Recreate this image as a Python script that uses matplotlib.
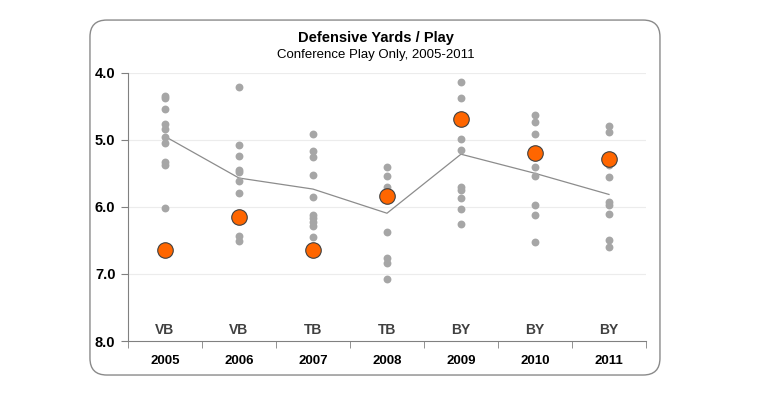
import matplotlib.pyplot as plt
from matplotlib.patches import FancyBboxPatch

plt.rcParams['font.family'] = ['Liberation Sans', 'DejaVu Sans']

# donnees
years = ['2005', '2006', '2007', '2008', '2009', '2010', '2011']
coaches = ['VB', 'VB', 'TB', 'TB', 'BY', 'BY', 'BY']
others = [
    [4.35, 4.38, 4.535, 4.76, 4.845, 4.96, 5.05, 5.335, 5.37, 6.01],
    [4.21, 5.085, 5.235, 5.45, 5.485, 5.61, 5.79, 6.43, 6.51],
    [4.92, 5.16, 5.25, 5.52, 5.85, 6.12, 6.17, 6.225, 6.28, 6.45],
    [5.40, 5.535, 5.71, 5.835, 6.375, 6.76, 6.84, 7.07],
    [4.145, 4.38, 4.995, 5.145, 5.70, 5.75, 5.875, 6.025, 6.25],
    [4.625, 4.74, 4.91, 5.40, 5.535, 5.97, 6.12, 6.52],
    [4.80, 4.885, 5.375, 5.55, 5.935, 5.975, 6.105, 6.495, 6.595],
]
team = [6.64, 6.155, 6.65, 5.84, 4.685, 5.195, 5.285]
conf_avg = [4.95, 5.57, 5.735, 6.095, 5.215, 5.50, 5.815]

fig = plt.figure(figsize=(7.65, 4.01), dpi=100)

# cadre arrondi (derriere les axes)
frame = FancyBboxPatch((0.1176, 0.0648), 0.7451, 0.8852,
                       boxstyle="round,pad=0,rounding_size=0.022",
                       transform=fig.transFigure, facecolor='white',
                       edgecolor='#8a8a8a', linewidth=1.0, zorder=-5,
                       mutation_aspect=765 / 401)
fig.patches.append(frame)

ax = fig.add_axes([0.1673, 0.1496, 0.6771, 0.6691])
ax.set_facecolor('none')

x = list(range(len(years)))
for i, vals in enumerate(others):
    ax.scatter([i] * len(vals), vals, s=32, color='#a6a6a6', zorder=3, linewidths=0)
ax.plot(x, conf_avg, color='#8c8c8c', linewidth=0.9, zorder=2)
ax.scatter(x, team, s=125, color='#ff6600', edgecolors='#404040', linewidths=0.8, zorder=4)

for i, c in enumerate(coaches):
    ax.text(i, 7.83, c, ha='center', va='center', fontsize=10, color='#404040',
            fontweight='bold')

ax.set_xlim(-0.5, len(years) - 0.5)
ax.set_ylim(8.0, 4.0)
ax.set_yticks([4, 5, 6, 7, 8])
ax.set_yticklabels(['4.0', '5.0', '6.0', '7.0', '8.0'], fontsize=10.5, fontweight='bold')
ax.set_xticks(x)
ax.set_xticklabels(years, fontsize=9.5, fontweight='bold')
ax.set_xticks([i + 0.5 for i in range(-1, len(years))], minor=True)
ax.tick_params(axis='x', which='major', length=0, pad=10)
ax.tick_params(axis='x', which='minor', length=5, color='#808080', direction='out')
ax.tick_params(axis='y', length=5, color='#808080', direction='out', pad=4)

for y in [4, 5, 6, 7]:
    ax.axhline(y, color='#ececec', linewidth=0.8, zorder=1)

ax.spines['top'].set_visible(False)
ax.spines['right'].set_visible(False)
ax.spines['left'].set_color('#808080')
ax.spines['bottom'].set_color('#808080')

fig.text(0.4915, 0.905, 'Defensive Yards / Play', ha='center', va='center',
         fontsize=10.5, fontweight='bold')
fig.text(0.4915, 0.862, 'Conference Play Only, 2005-2011', ha='center', va='center',
         fontsize=9.5)

fig.savefig('out.png', dpi=100)
